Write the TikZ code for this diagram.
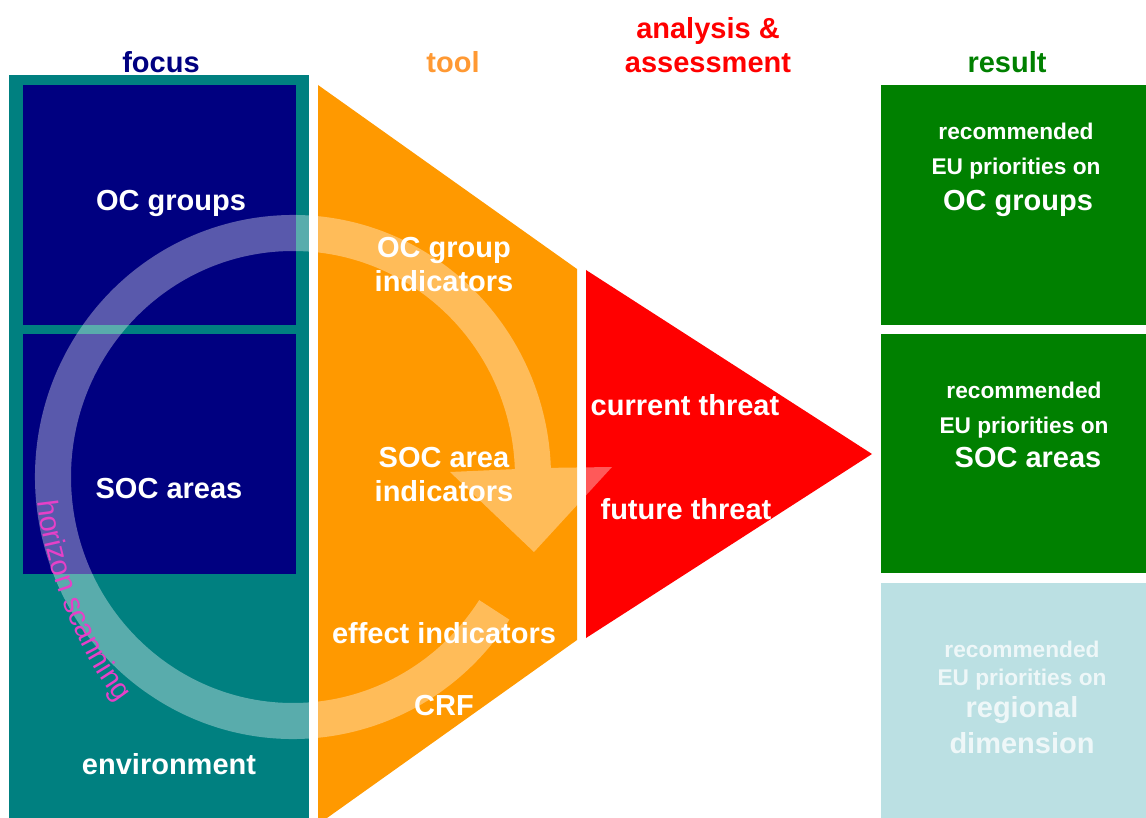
\documentclass[tikz,border=0pt]{standalone}
\usepackage{fontspec}
\setmainfont{Liberation Sans}
\usetikzlibrary{calc,decorations.text}
\definecolor{focusteal}{RGB}{0,128,128}
\definecolor{focusnavy}{RGB}{0,0,128}
\definecolor{toolorange}{RGB}{255,153,0}
\definecolor{headorange}{RGB}{255,153,51}
\definecolor{threatred}{RGB}{255,0,0}
\definecolor{resultgreen}{RGB}{0,128,0}
\definecolor{regionblue}{RGB}{187,224,227}
\definecolor{scanpink}{RGB}{230,64,200}
\newcommand{\scanfont}{\fontsize{29}{33}\selectfont\color{scanpink}}

\begin{document}
\begin{tikzpicture}[x=1pt,y=-1pt,
    big/.style={text=white,font=\bfseries\fontsize{29}{34}\selectfont,align=center,anchor=base,inner sep=0pt},
    small/.style={big,font=\bfseries\fontsize{22.7}{35}\selectfont},
    faded/.style={text=white!75!regionblue}]
    \useasboundingbox (0,0) rectangle (1146,818);
    \fill[focusteal] (9,75) rectangle (309,818);
    \fill[focusnavy] (23,85) rectangle (296,325);
    \fill[focusnavy] (23,334) rectangle (296,574);
    \fill[toolorange] (318,85) -- (577,269) -- (577,640) -- (327,818) -- (318,818) -- cycle;
    \fill[threatred] (586,270) -- (872,454) -- (586,638) -- cycle;
    \fill[resultgreen] (881,85) rectangle (1146,325);
    \fill[resultgreen] (881,334) rectangle (1146,573);
    \fill[regionblue] (881,583) rectangle (1146,818);
    % horizon scanning ring
    \coordinate (ctr) at (293,477);
    \fill[white,opacity=.35] ($(ctr)+(33:258 and 262)$)
        arc[start angle=33,end angle=358,x radius=258,y radius=262]
        -- (612,467) -- (534,552) -- (450,472) -- ($(ctr)+(358:222 and 226)$)
        arc[start angle=358,end angle=33,x radius=222,y radius=226] -- cycle;
    \path[decorate,decoration={text along path,text={|\scanfont|horizon scanning},text align=left}]
        (38,501) .. controls (45,570) and (75,652) .. (128,716);

    \node[big,text=focusnavy] (focus) at (161,73) {focus};
    \node[big,text=headorange] (tool) at (453,73) {tool};
    \node[big,text=threatred] (analysis) at (708,73) {analysis \&\\assessment};
    \node[big,text=resultgreen] (result) at (1007,73) {result};

    \node[big] (ocgroups) at (171,211) {OC groups};
    \node[big] (socareas) at (169,498) {SOC areas};
    \node[big] (environment) at (169,774) {environment};

    \node[big] (ocind) at (444,292) {OC group\\indicators};
    \node[big] (socind) at (444,501) {SOC area\\indicators};
    \node[big] (effectind) at (444,643) {effect indicators};
    \node[big] (crf) at (444,715) {CRF};

    \node[big] (current) at (685,415) {current threat};
    \node[big] (future) at (686,519) {future threat};

    \node[small] (recoc) at (1016,175) {recommended\\EU priorities on};
    \node[big] (resoc) at (1018,211) {OC groups};
    \node[small] (recsoc) at (1024,433) {recommended\\EU priorities on};
    \node[big] (ressoc) at (1028,467) {SOC areas};
    \node[small,faded,font=\bfseries\fontsize{22.7}{28}\selectfont] (recreg) at (1022,685) {recommended\\EU priorities on};
    \node[big,faded,font=\bfseries\fontsize{29}{36}\selectfont] (resreg) at (1022,753) {regional\\dimension};
\end{tikzpicture}
\end{document}
